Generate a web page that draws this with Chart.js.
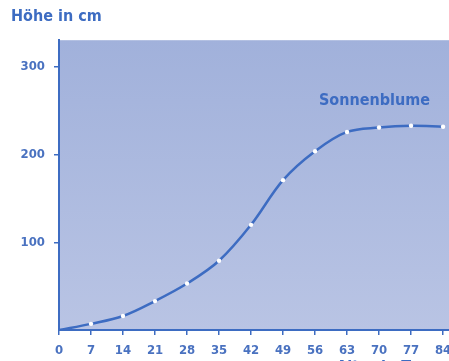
<!DOCTYPE html>
<html>
<head>
<meta charset="utf-8">
<script src="https://cdn.jsdelivr.net/npm/chart.js@4/dist/chart.umd.min.js"></script>
<style>
  html, body { margin: 0; padding: 0; background: #ffffff; overflow: hidden; }
  #wrap { width: 453px; height: 377px; }
</style>
</head>
<body>
<div id="wrap"><canvas id="c" width="453" height="377"></canvas></div>
<script>
// Wachstum einer Sonnenblume: Alter in Tagen gegen Höhe in cm
const days = [0, 7, 14, 21, 28, 35, 42, 49, 56, 63, 70, 77, 84];
const heights = [0, 7, 16, 33, 53, 79, 120, 171, 204, 226, 231, 233, 232];
const xTickValues = [0, 7, 14, 21, 28, 35, 42, 49, 56, 63, 70, 77, 84];
const yTickValues = [100, 200, 300];
const seriesName = 'Sonnenblume';

const blue = '#3d6cc2';
const labelBlue = '#4a72c0';
const labelFont = "'DejaVu Sans Condensed', 'Liberation Sans Narrow', sans-serif";

// Hintergrundverlauf der Zeichenfläche
const areaFill = {
  id: 'areaFill',
  beforeDraw(chart) {
    const { ctx, chartArea: a } = chart;
    const g = ctx.createLinearGradient(0, a.top, 0, a.bottom);
    g.addColorStop(0, '#a1b1db');
    g.addColorStop(1, '#b9c4e4');
    ctx.save();
    ctx.fillStyle = g;
    ctx.fillRect(a.left, a.top, a.right - a.left, a.bottom - a.top);
    ctx.restore();
  }
};

// Beschriftung der Kurve
const seriesLabel = {
  id: 'seriesLabel',
  afterDatasetsDraw(chart, args, opts) {
    const { ctx, scales } = chart;
    ctx.save();
    ctx.font = 'bold 16px ' + labelFont;
    ctx.fillStyle = blue;
    ctx.textAlign = 'center';
    ctx.textBaseline = 'middle';
    ctx.fillText(opts.text, scales.x.getPixelForValue(opts.x), scales.y.getPixelForValue(opts.y));
    ctx.restore();
  }
};

new Chart(document.getElementById('c'), {
  type: 'line',
  data: {
    datasets: [{
      label: seriesName,
      data: days.map((d, i) => ({ x: d, y: heights[i] })),
      borderColor: blue,
      borderWidth: 2.5,
      tension: 0.35,
      pointRadius: days.map((d, i) => (i === 0 ? 0 : 2.2)),
      pointBackgroundColor: '#ffffff',
      pointBorderWidth: 0,
      fill: false
    }]
  },
  options: {
    responsive: false,
    animation: false,
    layout: { padding: { left: 11, right: 0, top: 0, bottom: 0 } },
    plugins: {
      legend: { display: false },
      tooltip: { enabled: false },
      title: {
        display: true,
        text: 'Höhe in cm',
        align: 'start',
        color: blue,
        font: { family: labelFont, size: 16, weight: 'bold' },
        padding: { top: 7, bottom: 14 }
      },
      seriesLabel: { text: seriesName, x: 69, y: 261 }
    },
    scales: {
      x: {
        type: 'linear',
        min: 0,
        max: 85.3,
        afterBuildTicks(s) { s.ticks = xTickValues.map(v => ({ value: v })); },
        afterFit(s) { s.height = 47; s.paddingRight = 0; s.paddingLeft = 0; },
        border: { color: blue, width: 2 },
        grid: { drawOnChartArea: false, drawTicks: true, tickLength: 5, color: blue, lineWidth: 1.5 },
        ticks: {
          color: labelBlue,
          padding: 8,
          maxRotation: 0,
          autoSkip: false,
          font: { family: labelFont, size: 13, weight: 'bold' }
        },
        title: {
          display: true,
          text: 'Alter in Tagen',
          align: 'end',
          color: blue,
          font: { family: labelFont, size: 16, weight: 'bold' },
          padding: { top: 0, bottom: 0 }
        }
      },
      y: {
        min: 0,
        max: 330.7,
        afterBuildTicks(s) { s.ticks = yTickValues.map(v => ({ value: v })); },
        afterFit(s) { s.width = 48; },
        border: { color: blue, width: 2 },
        grid: { drawOnChartArea: false, drawTicks: true, tickLength: 5, color: blue, lineWidth: 1.5 },
        ticks: {
          color: labelBlue,
          padding: 9,
          font: { family: labelFont, size: 13, weight: 'bold' }
        }
      }
    }
  },
  plugins: [areaFill, seriesLabel]
});
</script>
</body>
</html>
